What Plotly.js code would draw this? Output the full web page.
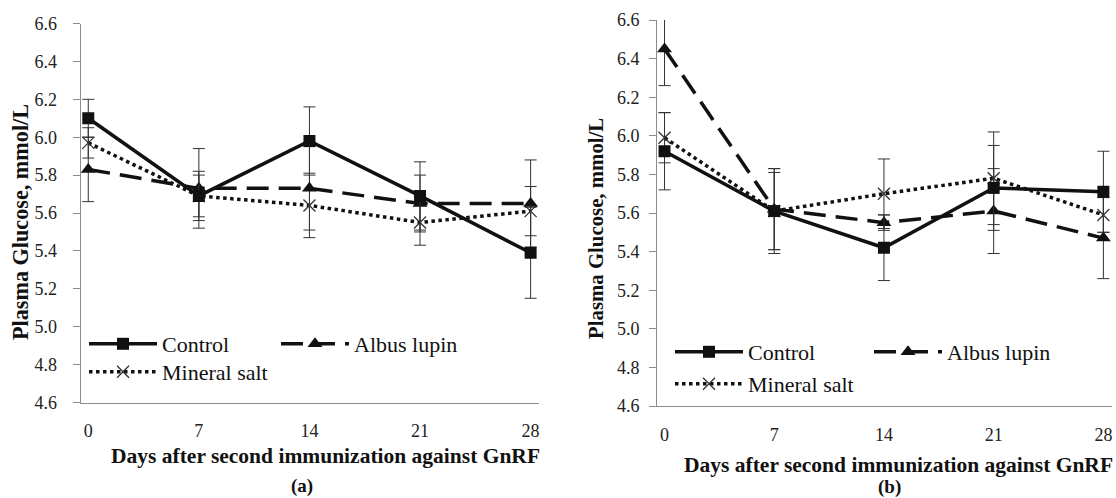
<!DOCTYPE html>
<html>
<head>
<meta charset="utf-8">
<script src="https://cdn.plot.ly/plotly-3.0.1.min.js"></script>
<style>html,body{margin:0;padding:0;background:#fff;}#chart{width:1116px;height:498px;}</style>
</head>
<body>
<div id="chart"></div>
<script>
// ---- data ----
const days = [0, 7, 14, 21, 28];
const yTicks = [4.6, 4.8, 5.0, 5.2, 5.4, 5.6, 5.8, 6.0, 6.2, 6.4, 6.6];
const seriesNames = ['Control', 'Albus lupin', 'Mineral salt'];

// panel (a)
const controlA = [6.10, 5.69, 5.98, 5.69, 5.39];
const controlAErr = [0.10, 0.13, 0.18, 0.18, 0.24];
const albusA = [5.83, 5.73, 5.73, 5.65, 5.65];
const albusAErr = [0.17, 0.21, 0.22, 0.15, 0.23];
const mineralA = [5.97, 5.69, 5.64, 5.55, 5.61];
const mineralAErr = [0.08, 0.11, 0.17, 0.12, 0.13];

// panel (b)
const controlB = [5.92, 5.61, 5.42, 5.73, 5.71];
const controlBErr = [0.20, 0.20, 0.17, 0.22, 0.21];
const albusB = [6.45, 5.62, 5.55, 5.61, 5.47];
const albusBErr = [0.19, 0.21, 0.04, 0.22, 0.21];
const mineralB = [5.99, 5.61, 5.70, 5.78, 5.59];
const mineralBErr = [0.13, 0.22, 0.18, 0.24, 0.09];

const xTitle = 'Days after second immunization against GnRF';
const yTitle = 'Plasma Glucose, mmol/L';

// ---- styles ----
const W = 1116, H = 498;
const SERIF = 'Liberation Serif, Times New Roman, serif';
const INK = '#111';
const AXIS = '#8c8c8c';
const ERR = '#333';
const LW = 3.5;

const styles = {
  'Control': {line: {color: INK, width: LW, dash: 'solid'},
              marker: {symbol: 'square', size: 12, color: INK}},
  'Albus lupin': {line: {color: INK, width: LW, dash: '22px,10px'},
                  marker: {symbol: 'triangle-up', size: 13, color: INK}},
  'Mineral salt': {line: {color: INK, width: LW, dash: 'dot'},
                   marker: {symbol: 'x-thin-open', size: 12, color: '#333', line: {width: 1.3, color: '#333'}}}
};

function mk(name, ys, errs, xa, ya, legendId) {
  const s = styles[name];
  return {
    type: 'scatter', mode: 'lines+markers', name: name,
    x: days, y: ys, xaxis: xa, yaxis: ya, legend: legendId,
    line: s.line, marker: s.marker,
    error_y: {type: 'data', array: errs, visible: true, color: ERR, thickness: 1, width: 6},
    hoverinfo: 'skip'
  };
}

const traces = [
  mk('Mineral salt', mineralA, mineralAErr, 'x', 'y', 'legend3'),
  mk('Albus lupin', albusA, albusAErr, 'x', 'y', 'legend2'),
  mk('Control', controlA, controlAErr, 'x', 'y', 'legend'),
  mk('Mineral salt', mineralB, mineralBErr, 'x2', 'y2', 'legend6'),
  mk('Albus lupin', albusB, albusBErr, 'x2', 'y2', 'legend5'),
  mk('Control', controlB, controlBErr, 'x2', 'y2', 'legend4')
];

// pixel helpers for layout placement
const px = v => v / W;
const py = v => 1 - v / H;

const tickFont = {family: SERIF, size: 18, color: '#222'};
const xRange = [-0.48, 28.55];
const tickShift = 0.49;

function xMain(domain) {
  return {domain: domain, range: xRange, tickmode: 'array', tickvals: days, ticktext: days.map(String),
          ticks: '', showline: true, linecolor: AXIS, linewidth: 1, showgrid: false, zeroline: false,
          tickfont: tickFont, ticklabelstandoff: 12, fixedrange: true};
}
function xTickAxis(over, anchor) {
  return {overlaying: over, anchor: anchor, range: xRange, tickmode: 'array',
          tickvals: days.map(d => d - tickShift), showticklabels: false, ticks: 'outside', ticklen: 7,
          tickcolor: AXIS, tickwidth: 1, showline: false, showgrid: false, zeroline: false, fixedrange: true};
}
function yMain(domain, anchor, standoff) {
  return {domain: domain, anchor: anchor, range: [4.6, 6.6], tickmode: 'array', tickvals: yTicks,
          ticktext: yTicks.map(v => v.toFixed(1)), ticks: 'outside', ticklen: 7, tickcolor: AXIS,
          showline: true, linecolor: AXIS, linewidth: 1, showgrid: false, zeroline: false,
          tickfont: tickFont, ticklabelstandoff: standoff, fixedrange: true};
}

const legFont = {family: SERIF, size: 22, color: '#111'};
function leg(xp, yp) {
  return {x: px(xp), y: py(yp), xanchor: 'left', yanchor: 'middle', orientation: 'h',
          bgcolor: 'rgba(0,0,0,0)', borderwidth: 0, font: legFont, itemwidth: 68, itemclick: false};
}

const xTitleFont = {family: SERIF, size: 21.5, color: '#111', weight: 'bold'};
const yTitleFontA = {family: SERIF, size: 22.2, color: '#111', weight: 'bold'};
const yTitleFontB = {family: SERIF, size: 20.8, color: '#111', weight: 'bold'};
const capFont = {family: SERIF, size: 19, color: '#111', weight: 'bold'};
const layout = {
  width: W, height: H, margin: {l: 0, r: 0, t: 0, b: 0},
  paper_bgcolor: '#fff', plot_bgcolor: 'rgba(0,0,0,0)', showlegend: true,
  xaxis: xMain([px(80.7), px(539.3)]),
  yaxis: yMain([py(402.5), py(23.5)], 'x', 12),
  xaxis2: Object.assign(xMain([px(657), px(1112)]), {anchor: 'y2'}),
  yaxis2: yMain([py(406), py(20)], 'x2', 6),
  xaxis3: xTickAxis('x', 'y'),
  xaxis4: xTickAxis('x2', 'y2'),
  legend: leg(84, 344),
  legend2: leg(276, 344),
  legend3: leg(84, 372),
  legend4: leg(670, 352),
  legend5: leg(869, 352),
  legend6: leg(670, 384),
  annotations: [
    {text: xTitle, xref: 'paper', yref: 'paper', x: px(325), y: py(456), xanchor: 'center', yanchor: 'middle', showarrow: false, font: xTitleFont},
    {text: xTitle, xref: 'paper', yref: 'paper', x: px(898), y: py(465), xanchor: 'center', yanchor: 'middle', showarrow: false, font: xTitleFont},
    {text: yTitle, xref: 'paper', yref: 'paper', x: px(20), y: py(222), xanchor: 'center', yanchor: 'middle', textangle: -90, showarrow: false, font: yTitleFontA},
    {text: yTitle, xref: 'paper', yref: 'paper', x: px(596), y: py(229), xanchor: 'center', yanchor: 'middle', textangle: -90, showarrow: false, font: yTitleFontB},
    {text: '(a)', xref: 'paper', yref: 'paper', x: px(302), y: py(486), xanchor: 'center', yanchor: 'middle', showarrow: false, font: capFont},
    {text: '(b)', xref: 'paper', yref: 'paper', x: px(889), y: py(487), xanchor: 'center', yanchor: 'middle', showarrow: false, font: capFont}
  ]
};

Plotly.newPlot('chart', traces, layout, {staticPlot: true, displayModeBar: false});
</script>
</body>
</html>
